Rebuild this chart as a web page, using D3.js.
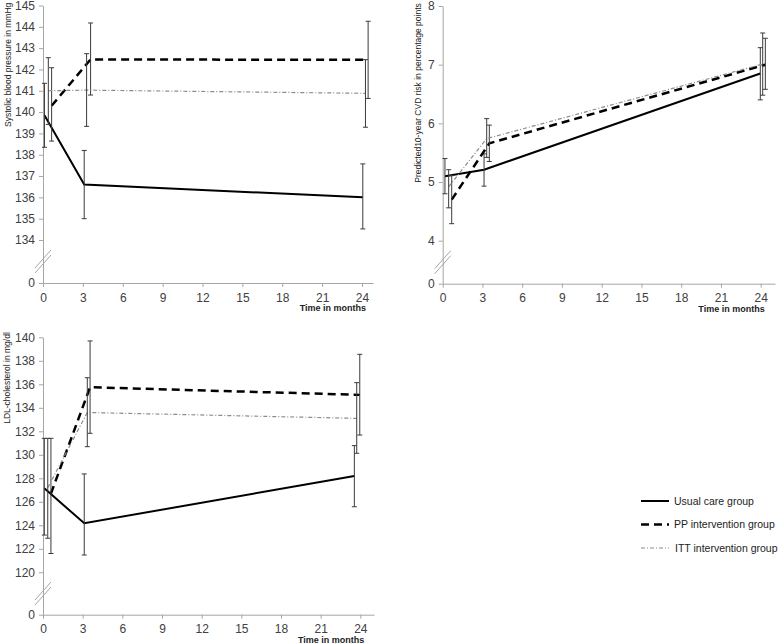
<!DOCTYPE html>
<html>
<head>
<meta charset="utf-8">
<script src="https://cdn.jsdelivr.net/npm/d3@7"></script>
<style>
  body { margin: 0; background: #fff; }
  svg { font-family: "Liberation Sans", Arial, sans-serif; }
  .axis path, .axis line { stroke: #a6a6a6; }
  .axis text { fill: #404040; font-size: 12px; }
</style>
</head>
<body>
<div id="chart"></div>
<script>
// Groups (order: usual care, PP intervention, ITT intervention)
var groups = ["Usual care group", "PP intervention group", "ITT intervention group"];
var xTicks = [0, 3, 6, 9, 12, 15, 18, 21, 24];

// Systolic blood pressure
var sbpTicks = [134, 135, 136, 137, 138, 139, 140, 141, 142, 143, 144, 145];
var sbpTime = [[0.11, 3.1, 24.06], [0.65, 3.58, 24.46], [0.4, 3.28, 24.26]];
var sbpMean = [[139.85, 136.6, 136.0], [140.3, 142.47, 142.45], [141.0, 141.03, 140.88]];
var sbpLow  = [[138.35, 135.0, 134.52], [138.64, 140.8, 140.64], [139.42, 139.33, 139.29]];
var sbpHigh = [[141.35, 138.2, 137.57], [142.08, 144.18, 144.26], [142.55, 142.74, 142.46]];

// Predicted 10-year CVD risk
var cvdTicks = [4, 5, 6, 7, 8];
var cvdTime = [[0.17, 3.12, 23.97], [0.68, 3.52, 24.35], [0.45, 3.32, 24.15]];
var cvdMean = [[5.10, 5.21, 6.85], [4.70, 5.66, 7.00], [4.92, 5.74, 7.01]];
var cvdLow  = [[4.80, 4.93, 6.40], [4.29, 5.35, 6.58], [4.56, 5.42, 6.48]];
var cvdHigh = [[5.40, 5.48, 7.29], [5.11, 5.97, 7.45], [5.21, 6.08, 7.54]];

// LDL cholesterol
var ldlTicks = [120, 122, 124, 126, 128, 130, 132, 134, 136, 138, 140];
var ldlTime = [[0.1, 3.12, 23.55], [0.6, 3.56, 23.96], [0.36, 3.35, 23.73]];
var ldlMean = [[127.15, 124.17, 128.2], [126.7, 135.75, 135.1], [127.2, 133.6, 133.1]];
var ldlLow  = [[123.17, 121.47, 125.58], [121.6, 131.83, 131.68], [122.9, 130.69, 130.13]];
var ldlHigh = [[131.4, 128.37, 130.78], [131.4, 139.69, 138.55], [131.4, 136.56, 136.14]];

// Line styles per group
var styles = [
  { stroke: "#000", width: 2, dash: null },
  { stroke: "#000", width: 2.5, dash: "8,5" },
  { stroke: "#8c8c8c", width: 1.2, dash: "4,2,1,2" }
];

var svg = d3.select("#chart").append("svg")
  .attr("width", 778)
  .attr("height", 644);

// Panel layout
var panels = [
  { title: "Systolic blood pressure in mmHg", ticks: sbpTicks, time: sbpTime, mean: sbpMean, low: sbpLow, high: sbpHigh,
    x0: 43, x24: 362, xEnd: 373, yTop: 5.5, yMin: 240, yZero: 283, titleX: 10.5, titleY: 127, titleAnchor: "start" },
  { title: "Predicted10-year CVD risk in percentage points", ticks: cvdTicks, time: cvdTime, mean: cvdMean, low: cvdLow, high: cvdHigh,
    x0: 442.7, x24: 760.7, xEnd: 775, yTop: 6, yMin: 240.7, yZero: 283.7, titleX: 421, titleY: 93, titleAnchor: "middle" },
  { title: "LDL-cholesterol in mg/dl", ticks: ldlTicks, time: ldlTime, mean: ldlMean, low: ldlLow, high: ldlHigh,
    x0: 43, x24: 360.3, xEnd: 374, yTop: 337.3, yMin: 572.3, yZero: 614.7, titleX: 9.5, titleY: 378, titleAnchor: "middle" }
];

panels.forEach(function(p) {
  var g = svg.append("g");
  var xMax = 24 * (p.xEnd - p.x0) / (p.x24 - p.x0);

  var x = d3.scaleLinear().domain([0, xMax]).range([p.x0, p.xEnd]);
  // Broken axis: 0 sits below the lowest tick
  var lo = p.ticks[0], hi = p.ticks[p.ticks.length - 1];
  var y = d3.scaleLinear().domain([0, lo, hi]).range([p.yZero, p.yMin, p.yTop]);

  // Axes
  g.append("g")
    .attr("class", "axis")
    .attr("transform", `translate(0, ${p.yZero})`)
    .call(d3.axisBottom(x).tickValues(xTicks).tickSize(4).tickSizeOuter(0).tickPadding(6).tickFormat(d3.format("d")));

  g.append("g")
    .attr("class", "axis")
    .attr("transform", `translate(${p.x0}, 0)`)
    .call(d3.axisLeft(y).tickValues([0].concat(p.ticks)).tickSize(4).tickSizeOuter(0).tickPadding(4).tickFormat(d3.format("d")));

  // Axis break marks
  var by = (p.yZero + p.yMin) / 2;
  [-2.5, 2.5].forEach(function(off) {
    g.append("line")
      .attr("x1", p.x0 - 8).attr("y1", by + off + 9)
      .attr("x2", p.x0 + 8).attr("y2", by + off - 9)
      .attr("stroke", "#a6a6a6")
      .attr("stroke-width", 1);
  });

  // Axis titles
  g.append("text")
    .attr("transform", `translate(${p.titleX}, ${p.titleY}) rotate(-90)`)
    .style("text-anchor", p.titleAnchor)
    .style("font-size", "8.5px")
    .style("fill", "#222")
    .text(p.title);

  g.append("text")
    .attr("x", p.x24 + 4)
    .attr("y", p.yZero + 28)
    .style("text-anchor", "end")
    .style("font-size", "9px")
    .style("font-weight", "bold")
    .style("fill", "#222")
    .text("Time in months");

  // Lines
  var line = d3.line()
    .x(d => x(d.t))
    .y(d => y(d.v));

  groups.forEach(function(name, i) {
    var pts = p.time[i].map(function(t, j) {
      return { t: t, v: p.mean[i][j], lo: p.low[i][j], hi: p.high[i][j] };
    });

    var path = g.append("path")
      .datum(pts)
      .attr("d", line)
      .attr("fill", "none")
      .attr("stroke", styles[i].stroke)
      .attr("stroke-width", styles[i].width);
    if (styles[i].dash) path.attr("stroke-dasharray", styles[i].dash);

    // Error bars
    var bars = g.selectAll(null)
      .data(pts)
      .enter()
      .append("g")
      .attr("stroke", "#3a3a3a")
      .attr("stroke-width", 1);

    bars.append("line")
      .attr("x1", d => x(d.t)).attr("x2", d => x(d.t))
      .attr("y1", d => y(d.lo)).attr("y2", d => y(d.hi));
    bars.append("line")
      .attr("x1", d => x(d.t) - 2.5).attr("x2", d => x(d.t) + 2.5)
      .attr("y1", d => y(d.lo)).attr("y2", d => y(d.lo));
    bars.append("line")
      .attr("x1", d => x(d.t) - 2.5).attr("x2", d => x(d.t) + 2.5)
      .attr("y1", d => y(d.hi)).attr("y2", d => y(d.hi));
  });
});

// Legend
var legend = svg.append("g")
  .attr("transform", "translate(641, 501)");

groups.forEach(function(name, i) {
  var row = legend.append("g")
    .attr("transform", `translate(0, ${i * 23.5})`);

  var l = row.append("line")
    .attr("x1", 0).attr("x2", 28)
    .attr("y1", 0).attr("y2", 0)
    .attr("stroke", styles[i].stroke)
    .attr("stroke-width", styles[i].width);
  if (styles[i].dash) l.attr("stroke-dasharray", styles[i].dash);

  row.append("text")
    .attr("x", i == 2 ? 34 : 33)
    .attr("y", 0)
    .attr("dy", "0.35em")
    .style("font-size", "10.5px")
    .style("fill", "#222")
    .text(name);
});
</script>
</body>
</html>
